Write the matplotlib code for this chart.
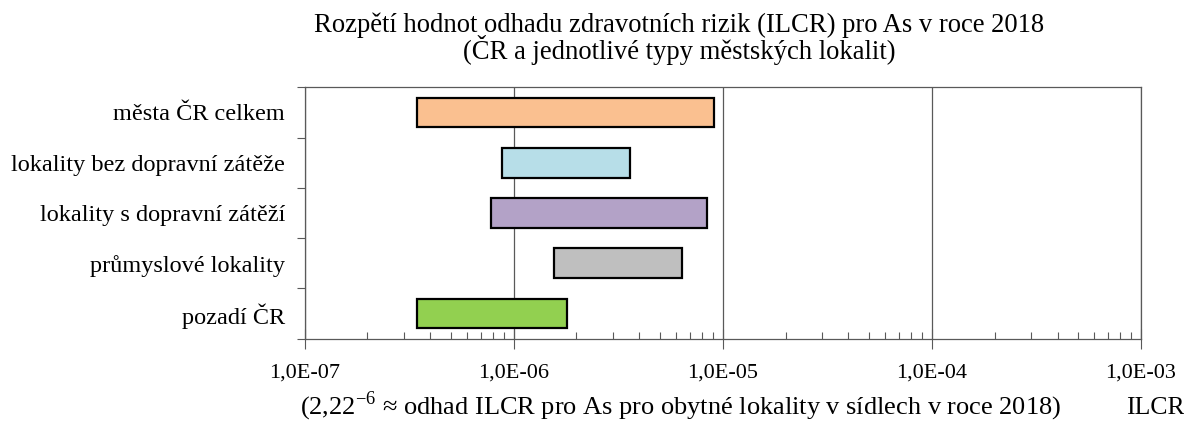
import math
import matplotlib
matplotlib.use("Agg")
import matplotlib.pyplot as plt
from matplotlib.ticker import FixedLocator, FuncFormatter, LogLocator, NullFormatter

plt.rcParams['font.family'] = ['Liberation Serif', 'DejaVu Serif']
plt.rcParams['mathtext.fontset'] = 'custom'
plt.rcParams['mathtext.rm'] = 'Liberation Serif'

# data (ILCR ranges for As, 2018)
categories = ["města ČR celkem", "lokality bez dopravní zátěže",
              "lokality s dopravní zátěží", "průmyslové lokality", "pozadí ČR"]
low = [3.45e-7, 8.8e-7, 7.8e-7, 1.56e-6, 3.45e-7]
high = [9.1e-6, 3.6e-6, 8.4e-6, 6.4e-6, 1.8e-6]
colors = ["#FAC090", "#B7DEE8", "#B3A2C7", "#BFBFBF", "#92D050"]
xticks = [1e-7, 1e-6, 1e-5, 1e-4, 1e-3]

fig = plt.figure(figsize=(11.84, 4.21), dpi=100)
ax = fig.add_axes([304.5 / 1184, 82.3 / 421, 836.2 / 1184, 251.4 / 421])

y = list(range(len(categories)))
widths = [h - l for l, h in zip(low, high)]
ax.barh(y, widths, left=low, height=0.59, color=colors,
        edgecolor="black", linewidth=1.6, zorder=3)

ax.set_xscale("log")
ax.set_xlim(1e-7, 1e-3)
ax.set_ylim(len(categories) - 0.5, -0.5)

ax.xaxis.set_major_locator(FixedLocator(xticks))
ax.xaxis.set_minor_locator(LogLocator(base=10, subs=range(2, 10)))
ax.xaxis.set_minor_formatter(NullFormatter())
ax.xaxis.set_major_formatter(FuncFormatter(
    lambda v, p: "1,0E-%02d" % round(-math.log10(v))))
ax.tick_params(axis="x", which="major", direction="inout", length=14,
               width=0.8, color="#595959", labelsize=16, pad=11)
ax.tick_params(axis="x", which="minor", direction="in", length=5,
               width=0.8, color="#595959")
ax.grid(axis="x", which="major", color="#595959", linewidth=0.9, zorder=1)

ax.set_yticks(y)
ax.set_yticklabels(categories)
ax.set_yticks([i - 0.5 for i in range(len(categories) + 1)], minor=True)
ax.tick_params(axis="y", which="major", length=0, labelsize=17.5, pad=14)
ax.tick_params(axis="y", which="minor", direction="out", length=6,
               width=0.8, color="#595959")

for s in ax.spines.values():
    s.set_color("#595959")
    s.set_linewidth(0.9)

fig.text(679 / 1184, 1 - 32 / 421,
         "Rozpětí hodnot odhadu zdravotních rizik (ILCR) pro As v roce 2018",
         ha="center", va="baseline", fontsize=19.2)
fig.text(679 / 1184, 1 - 59 / 421,
         "(ČR a jednotlivé typy městských lokalit)",
         ha="center", va="baseline", fontsize=19.2)
fig.text(681 / 1184, 1 - 414 / 421,
         r"(2,22$^{\mathregular{-6}}$ ≈ odhad ILCR pro As pro obytné lokality v sídlech v roce 2018)",
         ha="center", va="baseline", fontsize=19)
fig.text(1155 / 1184, 1 - 414 / 421, "ILCR", ha="center", va="baseline",
         fontsize=18.5)

fig.savefig("out.png", dpi=100)
